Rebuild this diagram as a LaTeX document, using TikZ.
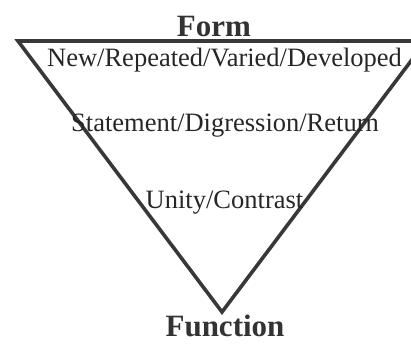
\documentclass[tikz,border=0pt]{standalone}
\usepackage{fontspec}
\setmainfont{Liberation Serif}
\begin{document}
\begin{tikzpicture}[x=1pt,y=-1pt,
  lbl/.style={anchor=base,inner sep=0pt,text=black!85,font=\fontsize{26.5}{30}\selectfont},
  ttl/.style={anchor=base,inner sep=0pt,text=black!80,font=\fontsize{31}{35}\selectfont\bfseries},
  tri/.style={draw=black!78,line width=3.6pt,line join=miter}]
\useasboundingbox (0,0) rectangle (411,343);
\begin{scope}
\clip (0,0) rectangle (411,343);
\coordinate (tl) at (18,41);
\coordinate (tr) at (426,41);
\coordinate (ap) at (222,312);
\draw[tri] (tl) -- (tr) -- (ap) -- cycle;
\end{scope}
\node[ttl] (form) at (214,36) {Form};
\node[lbl] (nrvd) at (224.5,66) {New/Repeated/Varied/Developed};
\node[lbl] (sdr) at (225,131) {Statement/Digression/Return};
\node[lbl] (uc) at (224.5,208) {Unity/Contrast};
\node[ttl] (func) at (225,336) {Function};
\end{tikzpicture}
\end{document}
